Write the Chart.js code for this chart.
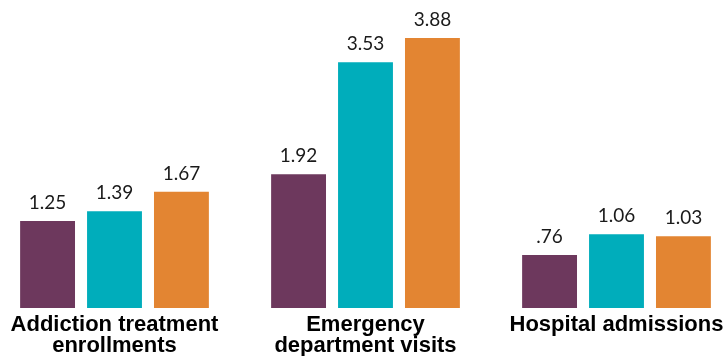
<!DOCTYPE html>
<html>
<head>
<meta charset="utf-8">
<script src="https://cdn.jsdelivr.net/npm/chart.js@4/dist/chart.umd.min.js"></script>
<style>
  html, body { margin: 0; padding: 0; background: #fff; }
  #wrap { position: relative; width: 723px; height: 356px; overflow: hidden; }
  #box { position: absolute; left: -11px; top: 0; width: 753px; height: 356px; }
</style>
</head>
<body>
<div id="wrap"><div id="box"><canvas id="barChart"></canvas></div></div>
<script>
// categories
var categories = [
    ["Addiction treatment", "enrollments"],
    ["Emergency", "department visits"],
    "Hospital admissions"
];

// series values
var seriesA = [1.25, 1.92, 0.76];
var seriesB = [1.39, 3.53, 1.06];
var seriesC = [1.67, 3.88, 1.03];

var colors = ["#6d385d", "#00adbb", "#e38532"];

// value labels above each bar, e.g. ".76" instead of "0.76"
var valueLabels = {
    id: "valueLabels",
    afterDatasetsDraw: function (chart) {
        var ctx = chart.ctx;
        ctx.save();
        ctx.font = "19px Lato";
        ctx.fillStyle = "#1a1a1a";
        ctx.textAlign = "center";
        ctx.textBaseline = "alphabetic";
        chart.data.datasets.forEach(function (ds, i) {
            chart.getDatasetMeta(i).data.forEach(function (bar, j) {
                var txt = ds.data[j].toFixed(2).replace(/^0/, "");
                ctx.fillText(txt, bar.x, bar.y - 12);
            });
        });
        ctx.restore();
    }
};

var ctx1 = document.getElementById("barChart");

var chart1 = new Chart(ctx1, {
    type: "bar",
    data: {
        labels: categories,
        datasets: [
            { data: seriesA, backgroundColor: colors[0] },
            { data: seriesB, backgroundColor: colors[1] },
            { data: seriesC, backgroundColor: colors[2] }
        ]
    },
    options: {
        animation: false,
        responsive: true,
        maintainAspectRatio: false,
        categoryPercentage: 0.8,
        barPercentage: 0.82,
        layout: { padding: 0 },
        plugins: {
            legend: { display: false },
            tooltip: { enabled: false }
        },
        scales: {
            x: {
                grid: { display: false, drawTicks: false },
                border: { display: false },
                ticks: {
                    autoSkip: false,
                    maxRotation: 0,
                    padding: 6,
                    color: "#000",
                    font: { family: "Liberation Sans", weight: "bold", size: 22, lineHeight: "21px" }
                },
                afterFit: function (scale) { scale.height = 48; }
            },
            y: {
                display: false,
                min: 0,
                max: 4.425
            }
        }
    },
    plugins: [valueLabels]
});
</script>
</body>
</html>
